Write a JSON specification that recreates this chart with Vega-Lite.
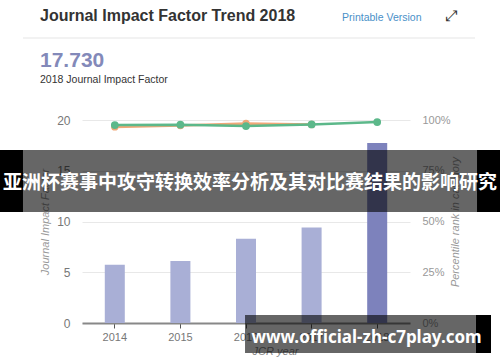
{
  "$schema": "https://vega.github.io/schema/vega-lite/v6.json",
  "width": 328,
  "height": 203,
  "autosize": {"type": "none"},
  "padding": {"left": 82, "top": 120, "right": 90, "bottom": 39},
  "background": "white",
  "config": {"view": {"stroke": null}, "font": "Liberation Sans"},
  "datasets": {
    "jif": [
      {"year": "2014", "jif": 5.75},
      {"year": "2015", "jif": 6.1},
      {"year": "2016", "jif": 8.3},
      {"year": "2017", "jif": 9.4},
      {"year": "2018", "jif": 17.73}
    ],
    "rank": [
      {"year": "2014", "series": "Category 2", "pct": 96.6},
      {"year": "2015", "series": "Category 2", "pct": 97.3},
      {"year": "2016", "series": "Category 2", "pct": 98.3},
      {"year": "2017", "series": "Category 2", "pct": 97.8},
      {"year": "2014", "series": "Category 1", "pct": 97.5},
      {"year": "2015", "series": "Category 1", "pct": 97.7},
      {"year": "2016", "series": "Category 1", "pct": 97.0},
      {"year": "2017", "series": "Category 1", "pct": 97.8},
      {"year": "2018", "series": "Category 1", "pct": 99.0}
    ],
    "texts": [
      {"id": "title", "text": "Journal Impact Factor Trend 2018"},
      {"id": "print", "text": "Printable Version"},
      {"id": "icon", "text": "⤢"},
      {"id": "value", "text": "17.730"},
      {"id": "caption", "text": "2018 Journal Impact Factor"},
      {"id": "banner", "text": "亚洲杯赛事中攻守转换效率分析及其对比赛结果的影响研究"},
      {"id": "url", "text": "www.official-zh-c7play.com"}
    ]
  },
  "layer": [
    {
      "layer": [
        {
          "data": {"name": "jif"},
          "mark": {"type": "bar"},
          "encoding": {
            "x": {
              "field": "year", "type": "ordinal",
              "scale": {"paddingInner": 0.695, "paddingOuter": 0.3475},
              "axis": {
                "title": "JCR year", "labelAngle": 0, "labelColor": "#777", "labelFontSize": 11,
                "labelPadding": 3, "domainColor": "#888", "domainWidth": 2, "tickColor": "#555",
                "tickSize": 5, "titleFontStyle": "italic", "titleFontWeight": "normal",
                "titleColor": "#888", "titleFontSize": 11, "titlePadding": 3, "titleX": 193
              }
            },
            "y": {
              "field": "jif", "type": "quantitative",
              "scale": {"domain": [0, 20]},
              "axis": {
                "values": [0, 5, 10, 15, 20], "title": "Journal Impact Factor", "ticks": false,
                "domain": false, "labelPadding": 12, "labelColor": "#777", "labelFontSize": 12,
                "gridColor": "#e8e8e8", "titleFontStyle": "italic", "titleFontWeight": "normal",
                "titleColor": "#999", "titleFontSize": 11, "titlePadding": 6
              }
            },
            "color": {
              "condition": {"test": "datum.year === '2018'", "value": "#7d82bc"},
              "value": "#a9afd6"
            }
          }
        },
        {
          "data": {"name": "rank"},
          "encoding": {
            "x": {"field": "year", "type": "ordinal"},
            "y": {
              "field": "pct", "type": "quantitative",
              "scale": {"domain": [0, 100]},
              "axis": {
                "orient": "right", "values": [0, 25, 50, 75, 100], "labelExpr": "datum.value + '%'",
                "grid": false, "ticks": false, "domain": false, "labelPadding": 12,
                "labelColor": "#999", "labelFontSize": 11, "title": "Percentile rank in category",
                "titleAngle": 270, "titleFontStyle": "italic", "titleFontWeight": "normal",
                "titleColor": "#999", "titleFontSize": 11, "titlePadding": 10
              }
            }
          },
          "layer": [
            {
              "transform": [{"filter": "datum.series === 'Category 2'"}],
              "mark": {"type": "line", "color": "#f0a878", "strokeWidth": 2.5,
                       "point": {"filled": true, "size": 55, "color": "#f0a878"}}
            },
            {
              "transform": [{"filter": "datum.series === 'Category 1'"}],
              "mark": {"type": "line", "color": "#5cb88a", "strokeWidth": 2.5,
                       "point": {"filled": true, "size": 60, "color": "#5cb88a"}}
            }
          ]
        }
      ],
      "resolve": {"scale": {"y": "independent"}}
    },
    {
      "layer": [
        {
          "data": {"values": [{}]},
          "mark": {"type": "rule", "color": "#e5e5e5", "strokeWidth": 1},
          "encoding": {
            "x": {"datum": -0.1799, "type": "quantitative", "scale": {"domain": [0, 1]}, "axis": null},
            "x2": {"datum": 1.1982},
            "y": {"datum": 1.4039, "type": "quantitative", "scale": {"domain": [0, 1]}, "axis": null}
          }
        },
        {
          "data": {"name": "texts"},
          "transform": [{"filter": "datum.id === 'title'"}],
          "mark": {"type": "text", "align": "left", "baseline": "alphabetic", "fontSize": 16, "fontWeight": "bold", "color": "#333"},
          "encoding": {
            "text": {"field": "text"},
            "x": {"datum": -0.128, "type": "quantitative", "scale": {"domain": [0, 1]}, "axis": null},
            "y": {"datum": 1.4877, "type": "quantitative", "scale": {"domain": [0, 1]}, "axis": null}
          }
        },
        {
          "data": {"name": "texts"},
          "transform": [{"filter": "datum.id === 'print'"}],
          "mark": {"type": "text", "align": "left", "baseline": "alphabetic", "fontSize": 10.5, "color": "#4a90c8"},
          "encoding": {
            "text": {"field": "text"},
            "x": {"datum": 0.793, "type": "quantitative", "scale": {"domain": [0, 1]}, "axis": null},
            "y": {"datum": 1.4901, "type": "quantitative", "scale": {"domain": [0, 1]}, "axis": null}
          }
        },
        {
          "data": {"name": "texts"},
          "transform": [{"filter": "datum.id === 'icon'"}],
          "mark": {"type": "text", "align": "center", "baseline": "middle", "fontSize": 15, "font": "DejaVu Sans", "color": "#333"},
          "encoding": {
            "text": {"field": "text"},
            "x": {"datum": 1.125, "type": "quantitative", "scale": {"domain": [0, 1]}, "axis": null},
            "y": {"datum": 1.5123, "type": "quantitative", "scale": {"domain": [0, 1]}, "axis": null}
          }
        },
        {
          "data": {"name": "texts"},
          "transform": [{"filter": "datum.id === 'value'"}],
          "mark": {"type": "text", "align": "left", "baseline": "alphabetic", "fontSize": 21, "fontWeight": "bold", "color": "#8389b9"},
          "encoding": {
            "text": {"field": "text"},
            "x": {"datum": -0.128, "type": "quantitative", "scale": {"domain": [0, 1]}, "axis": null},
            "y": {"datum": 1.2611, "type": "quantitative", "scale": {"domain": [0, 1]}, "axis": null}
          }
        },
        {
          "data": {"name": "texts"},
          "transform": [{"filter": "datum.id === 'caption'"}],
          "mark": {"type": "text", "align": "left", "baseline": "alphabetic", "fontSize": 10.5, "color": "#333"},
          "encoding": {
            "text": {"field": "text"},
            "x": {"datum": -0.128, "type": "quantitative", "scale": {"domain": [0, 1]}, "axis": null},
            "y": {"datum": 1.1823, "type": "quantitative", "scale": {"domain": [0, 1]}, "axis": null}
          }
        },
        {
          "data": {"values": [{}]},
          "mark": {"type": "rect", "color": "#000", "opacity": 0.6},
          "encoding": {
            "x": {"datum": -0.1799, "type": "quantitative", "scale": {"domain": [0, 1]}, "axis": null},
            "x2": {"datum": 1.2043},
            "y": {"datum": 0.8522, "type": "quantitative", "scale": {"domain": [0, 1]}, "axis": null},
            "y2": {"datum": 0.5468}
          }
        },
        {
          "data": {"values": [{}]},
          "mark": {"type": "rect", "color": "#000"},
          "encoding": {
            "x": {"datum": -0.25, "type": "quantitative", "scale": {"domain": [0, 1]}, "axis": null},
            "x2": {"datum": -0.1799},
            "y": {"datum": 0.8522, "type": "quantitative", "scale": {"domain": [0, 1]}, "axis": null},
            "y2": {"datum": 0.5468}
          }
        },
        {
          "data": {"values": [{}]},
          "mark": {"type": "rect", "color": "#000"},
          "encoding": {
            "x": {"datum": 1.2043, "type": "quantitative", "scale": {"domain": [0, 1]}, "axis": null},
            "x2": {"datum": 1.2744},
            "y": {"datum": 0.8522, "type": "quantitative", "scale": {"domain": [0, 1]}, "axis": null},
            "y2": {"datum": 0.5468}
          }
        },
        {
          "data": {"values": [{}]},
          "mark": {"type": "rect", "color": "#000", "opacity": 0.6},
          "encoding": {
            "x": {"datum": 0.497, "type": "quantitative", "scale": {"domain": [0, 1]}, "axis": null},
            "x2": {"datum": 1.2012},
            "y": {"datum": 0.0394, "type": "quantitative", "scale": {"domain": [0, 1]}, "axis": null},
            "y2": {"datum": -0.1478}
          }
        },
        {
          "data": {"values": [{}]},
          "mark": {"type": "rect", "color": "#000"},
          "encoding": {
            "x": {"datum": 1.2012, "type": "quantitative", "scale": {"domain": [0, 1]}, "axis": null},
            "x2": {"datum": 1.247},
            "y": {"datum": 0.0394, "type": "quantitative", "scale": {"domain": [0, 1]}, "axis": null},
            "y2": {"datum": -0.1478}
          }
        },
        {
          "data": {"name": "texts"},
          "transform": [{"filter": "datum.id === 'banner'"}],
          "mark": {"type": "text", "align": "center", "baseline": "middle", "fontSize": 19, "fontWeight": "bold", "font": "Noto Sans CJK SC", "color": "white"},
          "encoding": {
            "text": {"field": "text"},
            "x": {"datum": 0.5122, "type": "quantitative", "scale": {"domain": [0, 1]}, "axis": null},
            "y": {"datum": 0.6897, "type": "quantitative", "scale": {"domain": [0, 1]}, "axis": null}
          }
        },
        {
          "data": {"name": "texts"},
          "transform": [{"filter": "datum.id === 'url'"}],
          "mark": {"type": "text", "align": "center", "baseline": "alphabetic", "fontSize": 17, "fontWeight": "bold", "font": "Noto Sans", "color": "white"},
          "encoding": {
            "text": {"field": "text"},
            "x": {"datum": 0.8674, "type": "quantitative", "scale": {"domain": [0, 1]}, "axis": null},
            "y": {"datum": -0.0985, "type": "quantitative", "scale": {"domain": [0, 1]}, "axis": null}
          }
        }
      ]
    }
  ],
  "resolve": {"scale": {"x": "independent", "y": "independent"}}
}
